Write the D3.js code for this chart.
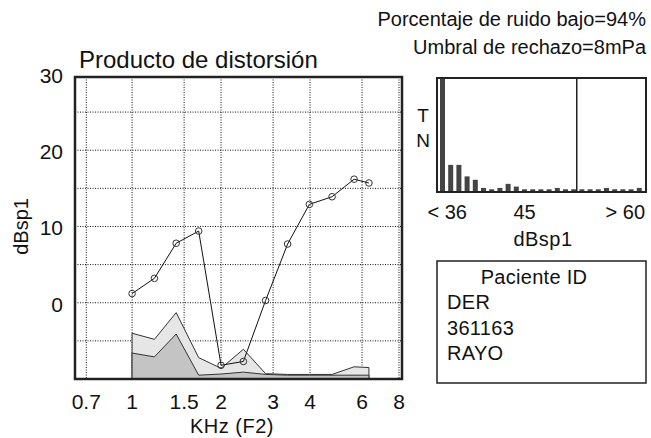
<!DOCTYPE html>
<html>
<head>
<meta charset="utf-8">
<script src="https://cdn.jsdelivr.net/npm/d3@7"></script>
<style>
  body { margin: 0; background: #fff; }
  text { font-family: "Liberation Sans", Arial, sans-serif; fill: #111; }
</style>
</head>
<body>
<svg width="651" height="438"></svg>
<script>
// DP-gram values (F2 in kHz, levels in dB SPL)
const freqKHz   = [1.0, 1.19, 1.41, 1.68, 2.0, 2.38, 2.83, 3.36, 3.98, 4.75, 5.64, 6.33];
const dpLevel   = [1.2, 3.2, 7.8, 9.4, -8.2, -7.7, 0.3, 7.7, 12.9, 13.9, 16.2, 15.7];
const noiseHigh = [-4.0, -4.8, -1.3, -7.2, -8.6, -6.1, -9.3, -9.4, -9.4, -9.4, -8.4, -8.5];
const noiseLow  = [-6.6, -7.1, -4.1, -9.5, -9.35, -9.1, -9.4, -9.5, -9.5, -9.5, -9.5, -9.5];

const freqTicks  = [0.7, 1, 1.5, 2, 3, 4, 6, 8];
const levelTicks = [30, 20, 10, 0];
const gridLevels = [-5, 0, 5, 10, 15, 20, 25];

// histogram of noise (dBsp1 bins)
const histBins   = [35, 36, 37, 38, 39, 40, 41, 42, 43, 44, 45, 46, 47, 48, 49, 50, 51, 52, 53, 54, 55, 56, 57, 58, 59];
const histCounts = [84, 20, 20, 11.5, 9, 3, 2, 3, 6, 4, 2, 2, 2, 2, 3, 2, 2, 2, 2, 2, 3, 2, 2, 2, 3];
const rejectLevel = 51.8;
const histTickValues = [36, 45, 60];
const histTickLabels = ["< 36", "45", "> 60"];

const headerLines  = ["Porcentaje de ruido bajo=94%", "Umbral de rechazo=8mPa"];
const patientLines = ["DER", "361163", "RAYO"];

const svg = d3.select("svg");

// header
svg.selectAll(".hdr")
  .data(headerLines)
  .enter().append("text")
  .attr("x", 646)
  .attr("y", (d, i) => 26 + i * 28)
  .attr("text-anchor", "end")
  .style("font-size", "20px")
  .text(d => d);

// ---- main chart ----
const x = d3.scaleLog().domain([0.641, 8.19]).range([75, 402]);
const y = d3.scaleLinear().domain([-10, 29.6]).range([379, 77]);

svg.append("text")
  .attr("x", 79).attr("y", 68)
  .style("font-size", "24px")
  .text("Producto de distorsión");

const grid = svg.append("g")
  .attr("stroke", "#111")
  .attr("stroke-width", 1)
  .attr("stroke-dasharray", "1,1.5");

grid.selectAll(".vg")
  .data(freqTicks)
  .enter().append("line")
  .attr("x1", d => x(d)).attr("x2", d => x(d))
  .attr("y1", y.range()[1]).attr("y2", y.range()[0]);

grid.selectAll(".hg")
  .data(gridLevels)
  .enter().append("line")
  .attr("x1", x.range()[0]).attr("x2", x.range()[1])
  .attr("y1", d => y(d)).attr("y2", d => y(d));

const pts = freqKHz.map((f, i) => ({ f: f, dp: dpLevel[i], hi: noiseHigh[i], lo: noiseLow[i] }));

const areaHi = d3.area().x(d => x(d.f)).y0(y(-10)).y1(d => y(d.hi));
const areaLo = d3.area().x(d => x(d.f)).y0(y(-10)).y1(d => y(d.lo));

svg.append("path")
  .datum(pts)
  .attr("d", areaHi)
  .attr("fill", "#e6e6e6")
  .attr("stroke", "#333")
  .attr("stroke-width", 1);

svg.append("path")
  .datum(pts)
  .attr("d", areaLo)
  .attr("fill", "#c4c4c4")
  .attr("stroke", "#333")
  .attr("stroke-width", 1);

const line = d3.line().x(d => x(d.f)).y(d => y(d.dp));

svg.append("path")
  .datum(pts)
  .attr("d", line)
  .attr("fill", "none")
  .attr("stroke", "#111")
  .attr("stroke-width", 1);

svg.selectAll(".pt")
  .data(pts)
  .enter().append("circle")
  .attr("cx", d => x(d.f))
  .attr("cy", d => y(d.dp))
  .attr("r", 3.3)
  .attr("fill", "none")
  .attr("stroke", "#333")
  .attr("stroke-width", 1);

// frame
svg.append("rect")
  .attr("x", x.range()[0]).attr("y", y.range()[1])
  .attr("width", x.range()[1] - x.range()[0])
  .attr("height", y.range()[0] - y.range()[1])
  .attr("fill", "none")
  .attr("stroke", "#222")
  .attr("stroke-width", 2.5);

// tick labels
svg.selectAll(".yl")
  .data(levelTicks)
  .enter().append("text")
  .attr("x", 63)
  .attr("y", d => y(d) + 9)
  .attr("text-anchor", "end")
  .style("font-size", "21px")
  .text(d => d);

svg.selectAll(".xl")
  .data(freqTicks)
  .enter().append("text")
  .attr("x", d => x(d))
  .attr("y", 409)
  .attr("text-anchor", "middle")
  .style("font-size", "21px")
  .text(d => d);

svg.append("text")
  .attr("x", 232).attr("y", 433)
  .attr("text-anchor", "middle")
  .style("font-size", "20px")
  .style("letter-spacing", "0.5px")
  .text("KHz (F2)");

svg.append("text")
  .attr("transform", "translate(28," + y(10) + ") rotate(-90)")
  .attr("text-anchor", "middle")
  .style("font-size", "20px")
  .text("dBsp1");

// ---- histogram ----
const hx = d3.scaleLinear().domain([35, 60]).range([439, 644]);
const hy = d3.scaleLinear().domain([0, 84]).range([192, 78]);

svg.selectAll(".bar")
  .data(histBins)
  .enter().append("rect")
  .attr("x", d => hx(d) + 1)
  .attr("width", 5)
  .attr("y", (d, i) => hy(histCounts[i]))
  .attr("height", (d, i) => hy(0) - hy(histCounts[i]))
  .attr("fill", "#444");

svg.append("rect")
  .attr("x", 437).attr("y", hy.range()[1])
  .attr("width", 209)
  .attr("height", hy.range()[0] - hy.range()[1])
  .attr("fill", "none")
  .attr("stroke", "#222")
  .attr("stroke-width", 2);

svg.append("line")
  .attr("x1", hx(rejectLevel)).attr("x2", hx(rejectLevel))
  .attr("y1", hy.range()[1]).attr("y2", hy.range()[0])
  .attr("stroke", "#222")
  .attr("stroke-width", 1.5);

svg.selectAll(".hl")
  .data(histTickValues)
  .enter().append("text")
  .attr("x", (d, i) => i === 2 ? hx(d) + 1 : hx(d) + (i === 1 ? 3.5 : 0))
  .attr("y", 219)
  .attr("text-anchor", (d, i) => i === 2 ? "end" : "middle")
  .style("font-size", "20px")
  .text((d, i) => histTickLabels[i]);

svg.append("text")
  .attr("x", 543).attr("y", 246)
  .attr("text-anchor", "middle")
  .style("font-size", "20px")
  .style("letter-spacing", "0.5px")
  .text("dBsp1");

svg.selectAll(".tn")
  .data(["T", "N"])
  .enter().append("text")
  .attr("x", 423)
  .attr("y", (d, i) => 122 + i * 25)
  .attr("text-anchor", "middle")
  .style("font-size", "19px")
  .text(d => d);

// ---- patient box ----
svg.append("rect")
  .attr("x", 437).attr("y", 261)
  .attr("width", 209).attr("height", 122)
  .attr("fill", "none")
  .attr("stroke", "#222")
  .attr("stroke-width", 1.5);

svg.append("text")
  .attr("x", 534).attr("y", 284)
  .attr("text-anchor", "middle")
  .style("font-size", "20px")
  .style("letter-spacing", "0.3px")
  .text("Paciente ID");

svg.selectAll(".pl")
  .data(patientLines)
  .enter().append("text")
  .attr("x", 447)
  .attr("y", (d, i) => 309 + i * 25.5)
  .style("font-size", "20px")
  .style("letter-spacing", "0.3px")
  .text(d => d);
</script>
</body>
</html>
